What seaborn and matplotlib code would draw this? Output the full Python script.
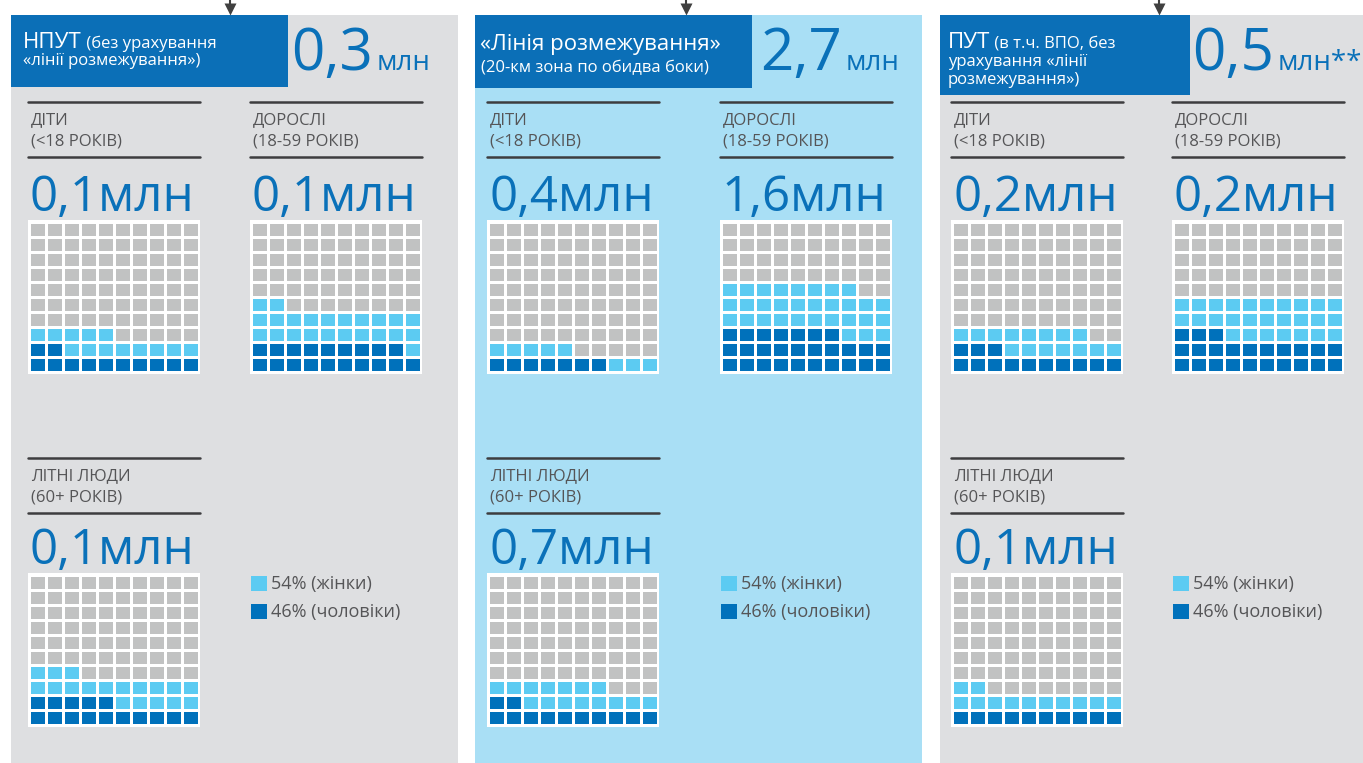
import numpy as np
import seaborn as sns
import matplotlib.pyplot as plt
from matplotlib.colors import ListedColormap
from matplotlib.patches import Rectangle

sns.set_style("white")
plt.rcParams['font.family'] = ['Open Sans', 'DejaVu Sans']

# data
panel_titles = ["НПУТ", "«Лінія розмежування»", "ПУТ"]
panel_totals = ["0,3", "2,7", "0,5"]
children_mln = ["0,1", "0,4", "0,2"]
adults_mln = ["0,1", "1,6", "0,2"]
elderly_mln = ["0,1", "0,7", "0,1"]
# waffle cells out of 100 (filled from bottom-left)
men_children = [12, 7, 13]
women_children = [13, 8, 15]
men_adults = [19, 27, 23]
women_adults = [23, 31, 27]
men_elderly = [15, 12, 10]
women_elderly = [18, 15, 12]
legend_labels = ["54% (жінки)", "46% (чоловіки)"]

GREY_BG = '#dedfe1'
BLUE_BG = '#a9dff5'
HEAD = '#0b6fb7'
NUM = '#0a71b9'
LIGHT = '#5ccbf2'
DARK = '#0071bb'
CELL = '#c1c2c2'
TXT = '#555557'
LINE = '#3d3d3f'

W, H = 1363, 763
fig = plt.figure(figsize=(W / 100, H / 100), dpi=100)
bg = fig.add_axes([0, 0, 1, 1])
bg.set_xlim(0, W)
bg.set_ylim(H, 0)
bg.axis('off')

panel_x = [11, 475, 940]
panel_w = [447, 447, 423]
panel_col = [GREY_BG, BLUE_BG, GREY_BG]
head_w = [277, 277, 250]
head_h = [72, 73, 80]
arrow_x = [230, 686, 1159]
col1_x = [28, 487, 951]
col2_x = [250, 720, 1172]

for i in range(3):
    bg.add_patch(Rectangle((panel_x[i], 15), panel_w[i], H - 15, color=panel_col[i], lw=0))
    bg.add_patch(Rectangle((panel_x[i], 15), head_w[i], head_h[i], color=HEAD, lw=0))
    bg.plot([arrow_x[i]] * 2, [0, 6], color='#404040', lw=1.5)
    bg.plot(arrow_x[i], 9, marker='v', ms=9, color='#404040', mec='none')

# header texts
t = bg.text(23, 48, "НПУТ", color='white', fontsize=16, va='baseline')
bg.annotate(" (без урахування", xy=(1, 48), xycoords=(t, 'data'), color='white',
            fontsize=12, va='baseline')
bg.text(23, 65, "«лінії розмежування»)", color='white', fontsize=12, va='baseline')

bg.text(480, 50, panel_titles[1], color='white', fontsize=16, va='baseline')
bg.text(481, 72, "(20-км зона по обидва боки)", color='white', fontsize=12, va='baseline')

t = bg.text(948, 48, "ПУТ", color='white', fontsize=16, va='baseline')
bg.annotate(" (в т.ч. ВПО, без", xy=(1, 48), xycoords=(t, 'data'), color='white',
            fontsize=12, va='baseline')
bg.text(948, 66, "урахування «лінії", color='white', fontsize=12, va='baseline')
bg.text(948, 84, "розмежування»)", color='white', fontsize=12, va='baseline')

num_x = [291, 760, 1192]
num_y = [70, 70, 70]
suffix = ["млн", "млн", "млн**"]
for i in range(3):
    t = bg.text(num_x[i], num_y[i], panel_totals[i], color=NUM, fontsize=42, va='baseline')
    bg.annotate(suffix[i], xy=(1, num_y[i]), xycoords=(t, 'data'), xytext=(3, 0),
                textcoords='offset points', color=NUM, fontsize=20, va='baseline')

cmap = ListedColormap([CELL, LIGHT, DARK])


def waffle_matrix(men, women):
    cells = np.zeros(100, dtype=int)
    cells[:men] = 2
    cells[men:men + women] = 1
    return cells.reshape(10, 10)[::-1]


def section(x, top, wtop, title, sub, value, men, women):
    bg.plot([x, x + 172], [top, top], color=LINE, lw=1.8)
    bg.plot([x, x + 172], [top + 55, top + 55], color=LINE, lw=1.8)
    bg.text(x + 3, top + 22, title, color=TXT, fontsize=12, va='baseline')
    bg.text(x + 3, top + 43, sub, color=TXT, fontsize=12, va='baseline')
    bg.text(x + 2, wtop - 9, value + "млн", color=NUM, fontsize=35.5, va='baseline')
    ax = fig.add_axes([x / W, 1 - (wtop + 154) / H, 172 / W, 154 / H])
    sns.heatmap(waffle_matrix(men, women), cmap=cmap, vmin=0, vmax=2, cbar=False,
                linewidths=1.0, linecolor='white', xticklabels=False,
                yticklabels=False, ax=ax)
    ax.set_xlim(-0.08, 10.08)
    ax.set_ylim(10.1, -0.1)
    ax.set_facecolor('white')


for i in range(3):
    section(col1_x[i], 102, 220, "ДІТИ", "(<18 РОКІВ)", children_mln[i],
            men_children[i], women_children[i])
    section(col2_x[i], 102, 220, "ДОРОСЛІ", "(18-59 РОКІВ)", adults_mln[i],
            men_adults[i], women_adults[i])
    section(col1_x[i], 458, 573, "ЛІТНІ ЛЮДИ", "(60+ РОКІВ)", elderly_mln[i],
            men_elderly[i], women_elderly[i])
    # legend
    lx = col2_x[i] + 1
    for j, c in enumerate([LIGHT, DARK]):
        bg.add_patch(Rectangle((lx, 576 + 28 * j), 16, 15, color=c, lw=0))
        bg.text(lx + 20, 589 + 28 * j, legend_labels[j], color=TXT, fontsize=13,
                va='baseline')

fig.savefig('out.png', dpi=100)
